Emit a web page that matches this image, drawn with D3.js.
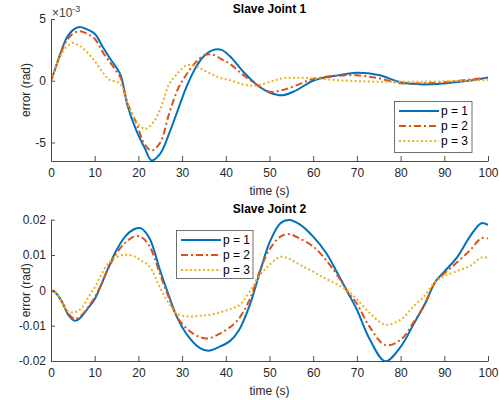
<!DOCTYPE html>
<html>
<head>
<meta charset="utf-8">
<script src="https://cdn.jsdelivr.net/npm/d3@7"></script>
<style>
  html, body { margin: 0; padding: 0; background: #fff; }
  svg { display: block; font-family: "Liberation Sans", Arial, Helvetica, sans-serif; }
  .tick text { fill: #262626; font-size: 12px; }
  .domain, .tick line { stroke: #4d4d4d; }
</style>
</head>
<body>
<svg id="chart" width="499" height="400"></svg>
<script>
// ---------------------------------------------------------------------------
// Data
// ---------------------------------------------------------------------------

const seriesNames = ["p = 1", "p = 2", "p = 3"];
const xTicks = [0, 10, 20, 30, 40, 50, 60, 70, 80, 90, 100];

// Slave Joint 1 — error in units of 1e-3 rad
const t1 = [0, 1, 2, 3.5, 5, 6.5, 8, 10, 12, 13.5, 15, 16, 17.5, 19.5, 21.5, 23, 25, 27, 29, 31,
            33, 35, 37, 39, 41, 44, 47, 50, 53, 56, 60, 65, 70, 75, 80, 85, 90, 95, 100];
const j1p1 = [0, 1.0, 2.05, 3.4, 4.1, 4.35, 4.2, 3.8, 2.65, 1.8, 1.05, 0.4, -2.0, -4.0, -5.5, -6.45, -5.9, -4.3, -2.4, -0.5,
              1.0, 2.0, 2.48, 2.5, 1.96, 0.73, -0.3, -0.95, -1.17, -0.8, 0.0, 0.4, 0.65, 0.46, -0.13, -0.3, -0.22, -0.03, 0.27];
const j1p2 = [0, 1.0, 2.0, 3.2, 3.8, 4.0, 3.85, 3.4, 2.23, 1.5, 0.75, 0.2, -1.8, -3.4, -5.2, -5.65, -5.0, -2.7, -0.7, 0.5,
              1.45, 2.05, 2.12, 1.75, 1.35, 0.46, -0.3, -0.9, -0.75, -0.4, 0.15, 0.38, 0.44, 0.2, -0.2, -0.2, -0.13, 0.06, 0.25];
const j1p3 = [0, 1.0, 1.9, 2.7, 3.05, 2.85, 2.4, 1.6, 0.6, 0.05, -0.08, -0.3, -1.8, -3.3, -3.9, -3.55, -2.3, -0.3, 0.6, 1.25,
              1.2, 0.85, 0.5, 0.2, 0.05, -0.3, -0.4, -0.1, 0.2, 0.25, 0.2, 0.06, -0.03, -0.08, -0.08, -0.08, -0.05, 0.0, 0.06];
const y1Ticks = [-5, 0, 5];

// Slave Joint 2 — error in rad
const t2 = [0, 1, 2.5, 4, 5.5, 7, 8.5, 10, 11.5, 13, 15, 17, 19, 20.5, 22.5, 25, 27, 29, 31.5, 34, 36, 38.5, 41,
            43, 45.5, 48, 50, 52.5, 54.5, 57, 60, 63, 65.5, 68, 70, 73, 76.5, 80, 83, 85.5, 88, 90, 93, 96, 98.5, 100];
const j2p1 = [0, -0.0006, -0.0032, -0.0070, -0.0086, -0.0074, -0.0050, -0.0025, 0.0016, 0.0060, 0.0114, 0.0153, 0.0173, 0.0176,
              0.0148, 0.0055, -0.0016, -0.0080, -0.0132, -0.0163, -0.0171, -0.0160, -0.0143, -0.0113, -0.0041, 0.0060, 0.0135,
              0.0190, 0.0199, 0.0186, 0.0152, 0.0105, 0.0050, -0.0008, -0.0055, -0.0140, -0.0201, -0.0160, -0.0095, -0.0040,
              0.0025, 0.0053, 0.0095, 0.0155, 0.0190, 0.0185];
const j2p2 = [0, -0.0006, -0.0032, -0.0066, -0.0081, -0.0070, -0.0048, -0.0020, 0.0016, 0.0060, 0.0105, 0.0135, 0.0152, 0.0152,
              0.0126, 0.0044, -0.0022, -0.0078, -0.0113, -0.0132, -0.0136, -0.0123, -0.0104, -0.0080, -0.0025, 0.0062, 0.0116,
              0.0152, 0.0159, 0.0146, 0.0124, 0.0085, 0.0043, -0.0005, -0.0038, -0.0105, -0.0155, -0.0140, -0.0090, -0.0040,
              0.0025, 0.0048, 0.0080, 0.0115, 0.0148, 0.0147];
const j2p3 = [0, -0.0005, -0.0035, -0.0060, -0.0062, -0.0050, -0.0020, 0.0008, 0.0043, 0.0075, 0.0094, 0.0101, 0.0096, 0.0085,
              0.0068, 0.0006, -0.0038, -0.0067, -0.0074, -0.0072, -0.0070, -0.0063, -0.0053, -0.0043, -0.0003, 0.0046, 0.0072,
              0.0095, 0.0089, 0.0072, 0.0053, 0.0032, 0.0017, -0.0002, -0.0025, -0.0065, -0.0097, -0.0083, -0.0045, -0.0015,
              0.0026, 0.0040, 0.0055, 0.0070, 0.0093, 0.0092];
const y2Ticks = [-0.02, -0.01, 0, 0.01, 0.02];

// ---------------------------------------------------------------------------
// Styles
// ---------------------------------------------------------------------------

const colors = ["#0072BD", "#D95319", "#EDB120"];
const dashes = [null, "7,3,2,3", "2,2.4"];

const svg = d3.select("#chart");

// ---------------------------------------------------------------------------
// One subplot
// ---------------------------------------------------------------------------

function drawPanel(opts) {
    const { id, top, bottom, left, right, t, series, yDomain, yTicks, title, legendPos } = opts;

    const x = d3.scaleLinear().domain([0, 100]).range([left, right]);
    const y = d3.scaleLinear().domain(yDomain).range([bottom, top]);

    svg.append("clipPath").attr("id", "clip-" + id)
        .append("rect")
        .attr("x", left).attr("y", top - 1)
        .attr("width", right - left).attr("height", bottom - top + 2);

    const line = d3.line()
        .x((d, i) => x(t[i]))
        .y(d => y(d))
        .curve(d3.curveCatmullRom.alpha(0.5));

    const g = svg.append("g").attr("clip-path", `url(#clip-${id})`);
    series.forEach((vals, k) => {
        g.append("path")
            .attr("d", line(vals))
            .attr("fill", "none")
            .attr("stroke", colors[k])
            .attr("stroke-width", 2)
            .attr("stroke-dasharray", dashes[k]);
    });

    // axes (box off: left + bottom only, ticks inside)
    svg.append("g")
        .attr("transform", `translate(0,${bottom})`)
        .call(d3.axisBottom(x).tickValues(xTicks).tickSizeInner(-5).tickSizeOuter(0).tickPadding(7));

    svg.append("g")
        .attr("transform", `translate(${left},0)`)
        .call(d3.axisLeft(y).tickValues(yTicks).tickFormat(d => String(d)).tickSizeInner(-4).tickSizeOuter(0).tickPadding(5));

    // title
    svg.append("text")
        .attr("x", (left + right) / 2)
        .attr("y", top - 6.5)
        .attr("text-anchor", "middle")
        .attr("font-size", "12px")
        .attr("font-weight", "bold")
        .attr("fill", "#000")
        .text(title);

    // axis labels
    svg.append("text")
        .attr("x", (left + right) / 2)
        .attr("y", bottom + 34)
        .attr("text-anchor", "middle")
        .attr("font-size", "12px")
        .attr("fill", "#262626")
        .text("time (s)");

    svg.append("text")
        .attr("transform", `translate(${left - 21},${(top + bottom) / 2}) rotate(-90)`)
        .attr("text-anchor", "middle")
        .attr("font-size", "12px")
        .attr("fill", "#262626")
        .text("error (rad)");

    // legend
    const lg = svg.append("g").attr("transform", `translate(${legendPos[0]},${legendPos[1]})`);
    lg.append("rect")
        .attr("width", legendPos[2]).attr("height", legendPos[3])
        .attr("fill", "#fff").attr("stroke", "#4d4d4d").attr("stroke-width", 0.8);
    seriesNames.forEach((name, k) => {
        const yy = 9.5 + k * 15;
        lg.append("line")
            .attr("x1", 4.5).attr("x2", 44.5).attr("y1", yy).attr("y2", yy)
            .attr("stroke", colors[k]).attr("stroke-width", 2)
            .attr("stroke-dasharray", dashes[k]);
        lg.append("text")
            .attr("x", 46.5).attr("y", yy + 4.3)
            .attr("font-size", "12px").attr("fill", "#000")
            .text(name);
    });

    return { x, y };
}

drawPanel({
    id: "j1", top: 19, bottom: 161, left: 51, right: 488,
    t: t1, series: [j1p1, j1p2, j1p3], yDomain: [-6.5, 5], yTicks: y1Ticks,
    title: "Slave Joint 1", legendPos: [394.5, 101.5, 77.5, 51]
});

// exponent multiplier for the top panel
const expo = svg.append("text")
    .attr("x", 52).attr("y", 16.5)
    .attr("font-size", "12px").attr("fill", "#404040");
expo.append("tspan").text("\u00d710");
expo.append("tspan").attr("dy", -5).attr("font-size", "9px").text("-3");

drawPanel({
    id: "j2", top: 219.7, bottom: 361, left: 51, right: 488,
    t: t2, series: [j2p1, j2p2, j2p3], yDomain: [-0.02, 0.02], yTicks: y2Ticks,
    title: "Slave Joint 2", legendPos: [176.5, 230.5, 76.5, 48]
});
</script>
</body>
</html>
